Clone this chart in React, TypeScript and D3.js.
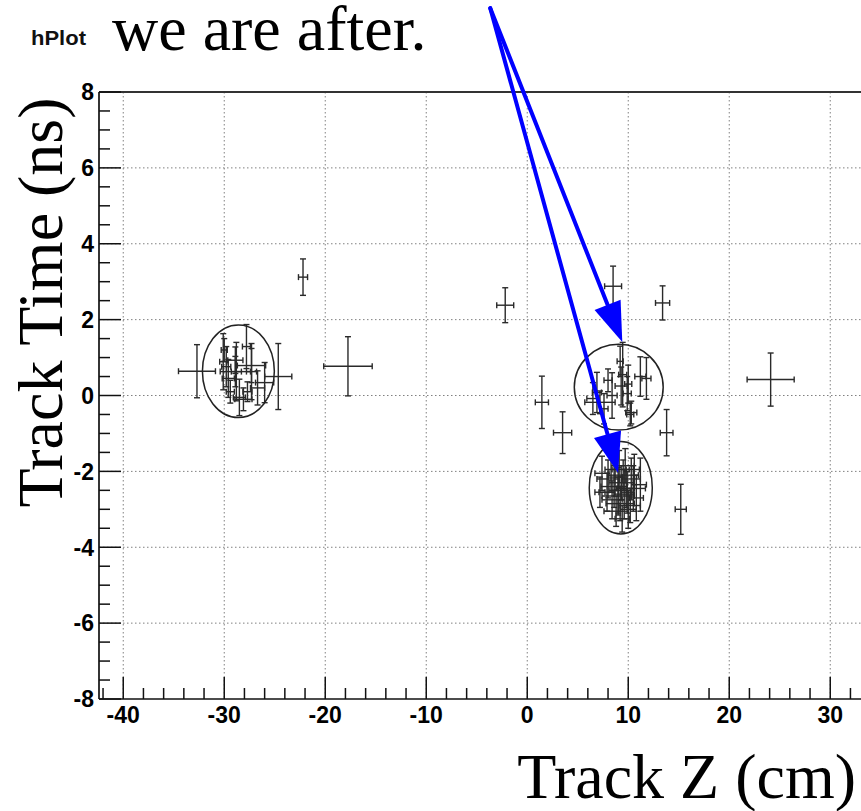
import React from "react";
import * as d3 from "d3";

// Track Z (cm) / Track Time (ns) measurements with their errors
const isolatedZ = [-22.2, -17.75, -32.7, -24.65, -2.18, 8.5, 13.4, 1.45, 3.5, 13.8, 15.2, 24.1];
const isolatedT = [3.12, 0.77, 0.64, 0.5, 2.38, 2.88, 2.44, -0.18, -0.98, -0.98, -3.0, 0.42];
const isolatedEZ = [0.45, 2.4, 1.83, 1.34, 0.84, 0.84, 0.7, 0.65, 0.9, 0.63, 0.55, 2.33];
const isolatedET = [0.48, 0.78, 0.7, 0.87, 0.46, 0.53, 0.45, 0.69, 0.55, 0.61, 0.66, 0.7];

const leftZ = [-30.1, -29.8, -28.8, -27.3, -26.0, -28.5, -27.7, -28.9, -27.3, -28.9, -28.1, -27.8, -30.0, -29.4, -29.6, -26.7];
const leftT = [0.89, 0.76, 0.63, 0.63, 0.34, -0.05, 0.1, 0.63, 0.79, 0.93, -0.1, 1.29, 1.2, 0.1, 0.45, 0.2];
const leftEZ = [0.35, 0.45, 0.5, 0.5, 0.9, 0.6, 0.45, 1.5, 1.4, 0.75, 0.85, 0.4, 0.3, 0.4, 0.6, 0.7];
const leftET = [0.74, 0.53, 0.77, 0.74, 0.53, 0.48, 0.26, 0.4, 0.45, 0.35, 0.3, 0.58, 0.3, 0.3, 0.5, 0.45];

const upperZ = [9.45, 9.3, 11.2, 11.8, 6.9, 6.5, 7.2, 8.4, 10.2, 10.3, 8.0, 9.9, 10.0, 9.2, 7.6];
const upperT = [0.55, 0.25, 0.5, 0.45, 0.08, -0.08, -0.18, 0.0, -0.5, -0.45, 0.4, 0.05, 0.3, 0.9, -0.35];
const upperEZ = [0.4, 0.6, 0.55, 0.45, 0.45, 0.6, 1.5, 0.5, 0.35, 0.55, 0.4, 0.4, 0.35, 0.3, 0.4];
const upperET = [0.85, 0.5, 0.52, 0.55, 0.53, 0.42, 0.3, 0.6, 0.3, 0.3, 0.3, 0.45, 0.5, 0.4, 0.4];

const lowerZ = [7.4, 8.0, 8.6, 9.0, 9.3, 9.6, 9.8, 10.3, 10.8, 8.4, 9.2, 10.0, 8.8, 9.5, 7.9, 10.5, 11.2, 9.1, 9.7, 8.3, 9.4, 10.2, 7.2, 9.0, 9.9, 8.7, 10.6, 9.35];
const lowerT = [-2.05, -2.2, -2.4, -2.5, -2.3, -2.6, -2.45, -2.2, -2.7, -2.75, -2.85, -3.0, -3.05, -2.1, -2.55, -2.45, -2.35, -1.95, -1.85, -1.95, -3.25, -2.9, -2.55, -2.65, -2.55, -2.15, -1.95, -2.45];
const lowerEZ = [0.7, 1.1, 1.3, 0.9, 1.2, 1.0, 0.8, 0.9, 0.7, 1.0, 1.4, 0.8, 1.2, 1.5, 0.8, 1.2, 0.6, 0.7, 0.9, 0.6, 0.7, 1.0, 0.5, 1.6, 0.6, 0.7, 0.5, 0.5];
const lowerET = [0.45, 0.5, 0.55, 0.6, 0.45, 0.65, 0.5, 0.55, 0.6, 0.5, 0.45, 0.5, 0.4, 0.4, 0.5, 0.6, 0.7, 0.5, 0.45, 0.6, 0.35, 0.45, 0.4, 0.5, 0.55, 0.35, 0.4, 0.3];

// Cluster outlines: centre and semi-axes in data units
const ringZ = [-28.6, 9.06, 9.26];
const ringT = [0.64, 0.22, -2.43];
const ringRZ = [3.56, 4.4, 3.12];
const ringRT = [1.22, 1.13, 1.22];

// Annotation arrows (data units)
const arrowFromZ = [-3.66, -3.66];
const arrowFromT = [10.21, 10.21];
const arrowToZ = [9.41, 9.0];
const arrowToT = [1.41, -2.04];

const xMajor = [-40, -30, -20, -10, 0, 10, 20, 30];
const yMajor = [-8, -6, -4, -2, 0, 2, 4, 6, 8];

const W = 861;
const H = 811;

export default function App() {
  const x = d3.scaleLinear().domain([-42.4, 35]).range([99, 99 + 77.4 * 10.1]);
  const y = d3.scaleLinear().domain([-8, 8]).range([699, 92]);

  const xMinor = d3.range(-42, 35, 2).filter((v) => !xMajor.includes(v));
  const yMinor = d3.range(-8, 8.01, 0.5).filter((v) => !yMajor.includes(v));

  const points: { z: number; t: number; ez: number; et: number }[] = [];
  const add = (zs: number[], ts: number[], ezs: number[], ets: number[]) =>
    zs.forEach((z, i) => points.push({ z, t: ts[i], ez: ezs[i], et: ets[i] }));
  add(isolatedZ, isolatedT, isolatedEZ, isolatedET);
  add(leftZ, leftT, leftEZ, leftET);
  add(upperZ, upperT, upperEZ, upperET);
  add(lowerZ, lowerT, lowerEZ, lowerET);

  const left = x(-42.4);
  const top = y(8);
  const bottom = y(-8);
  const right = W + 20;

  const cap = 3;
  const barColor = "#2a2a2a";

  const arrows = arrowFromZ.map((fz, i) => {
    const x0 = x(fz), y0 = y(arrowFromT[i]);
    const x1 = x(arrowToZ[i]), y1 = y(arrowToT[i]);
    const dx = x1 - x0, dy = y1 - y0;
    const len = Math.hypot(dx, dy);
    const ux = dx / len, uy = dy / len;
    const headL = 40, headW = 14;
    const bx = x1 - ux * headL, by = y1 - uy * headL;
    const px = -uy, py = ux;
    const head = [
      [x1, y1],
      [bx + px * headW, by + py * headW],
      [bx - px * headW, by - py * headW],
    ];
    return { x0, y0, bx, by, head };
  });

  return (
    <svg
      width={W}
      height={H}
      style={{ position: "absolute", left: 0, top: 0, background: "#fff" }}
    >
      <rect x={0} y={0} width={W} height={H} fill="#fff" />

      {/* grid */}
      <g stroke="#808080" strokeWidth={1} strokeDasharray="1.5 2.5">
        {xMajor.map((v) => (
          <line key={"gx" + v} x1={x(v)} x2={x(v)} y1={top} y2={bottom} />
        ))}
        {yMajor.slice(1, -1).map((v) => (
          <line key={"gy" + v} x1={left} x2={right} y1={y(v)} y2={y(v)} />
        ))}
      </g>

      {/* frame and axes */}
      <line x1={left} x2={right} y1={top} y2={top} stroke="#333" strokeWidth={2} />
      <line x1={left} x2={left} y1={top} y2={bottom} stroke="#111" strokeWidth={1.7} />
      <line x1={left} x2={right} y1={bottom} y2={bottom} stroke="#111" strokeWidth={1.7} />

      <g stroke="#111" strokeWidth={1.5}>
        {yMajor.map((v) => (
          <line key={"ty" + v} x1={left} x2={left + 22} y1={y(v)} y2={y(v)} />
        ))}
        {yMinor.map((v) => (
          <line key={"tmy" + v} x1={left} x2={left + 11} y1={y(v)} y2={y(v)} />
        ))}
        {xMajor.map((v) => (
          <line key={"tx" + v} x1={x(v)} x2={x(v)} y1={bottom} y2={bottom - 22} />
        ))}
        {xMinor.map((v) => (
          <line key={"tmx" + v} x1={x(v)} x2={x(v)} y1={bottom} y2={bottom - 11} />
        ))}
      </g>

      {/* tick labels */}
      <g fontFamily="'Liberation Sans', Arial, sans-serif" fontWeight="bold" fontSize={23} fill="#000">
        {yMajor.map((v) => (
          <text key={"ly" + v} x={left - 5} y={y(v)} dy="0.36em" textAnchor="end">
            {v}
          </text>
        ))}
        {xMajor.map((v) => (
          <text key={"lx" + v} x={x(v)} y={bottom + 24} textAnchor="middle">
            {v}
          </text>
        ))}
      </g>

      {/* error-bar points */}
      <g stroke={barColor} strokeWidth={1.4} fill="none">
        {points.map((p, i) => {
          const cx = x(p.z), cy = y(p.t);
          const xl = x(p.z - p.ez), xr = x(p.z + p.ez);
          const yt = y(p.t + p.et), yb = y(p.t - p.et);
          return (
            <g key={"p" + i}>
              <line x1={xl} x2={xr} y1={cy} y2={cy} />
              <line x1={cx} x2={cx} y1={yt} y2={yb} />
              <line x1={xl} x2={xl} y1={cy - cap} y2={cy + cap} />
              <line x1={xr} x2={xr} y1={cy - cap} y2={cy + cap} />
              <line x1={cx - cap} x2={cx + cap} y1={yt} y2={yt} />
              <line x1={cx - cap} x2={cx + cap} y1={yb} y2={yb} />
            </g>
          );
        })}
      </g>

      {/* cluster outlines */}
      <g stroke="#222" strokeWidth={1.5} fill="none">
        {ringZ.map((z, i) => (
          <ellipse
            key={"r" + i}
            cx={x(z)}
            cy={y(ringT[i])}
            rx={x(z + ringRZ[i]) - x(z)}
            ry={y(ringT[i]) - y(ringT[i] + ringRT[i])}
          />
        ))}
      </g>

      {/* arrows */}
      <g>
        {arrows.map((a, i) => (
          <g key={"a" + i}>
            <line x1={a.x0} y1={a.y0} x2={a.bx} y2={a.by} stroke="#0000ff" strokeWidth={4} strokeLinecap="round" />
            <polygon points={a.head.map((p) => p.join(",")).join(" ")} fill="#0000ff" />
          </g>
        ))}
      </g>

      {/* titles */}
      <text
        x={31}
        y={45}
        textLength={55}
        lengthAdjust="spacingAndGlyphs"
        fontFamily="'Liberation Sans', Arial, sans-serif"
        fontWeight="bold"
        fontSize={21}
        fill="#111"
      >
        hPlot
      </text>
      <text x={112} y={50} fontFamily="'Liberation Serif', 'Times New Roman', serif" fontSize={64} fill="#000">
        we are after.
      </text>
      <text
        transform={`translate(62, ${(top + bottom) / 2 - 93}) rotate(-90)`}
        textAnchor="middle"
        fontFamily="'Liberation Serif', 'Times New Roman', serif"
        fontSize={64}
        fill="#000"
      >
        Track Time (ns)
      </text>
      <text
        x={856}
        y={798}
        textAnchor="end"
        fontFamily="'Liberation Serif', 'Times New Roman', serif"
        fontSize={64}
        fill="#000"
      >
        Track Z (cm)
      </text>
    </svg>
  );
}
